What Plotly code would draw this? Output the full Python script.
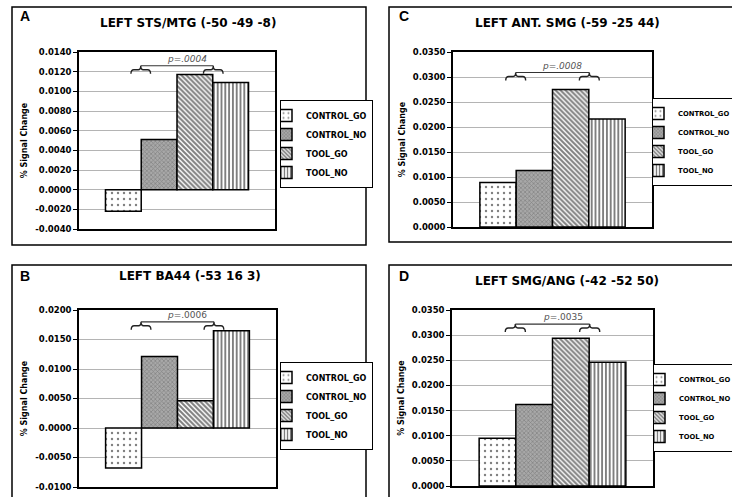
import plotly.graph_objects as go

W, H = 732, 497

series = ["CONTROL_GO", "CONTROL_NO", "TOOL_GO", "TOOL_NO"]

letters = ["A", "C", "B", "D"]
titles = ["LEFT STS/MTG (-50 -49 -8)", "LEFT ANT. SMG (-59 -25 44)",
          "LEFT BA44 (-53 16 3)", "LEFT SMG/ANG (-42 -52 50)"]

values_A = [-0.0022, 0.0051, 0.0117, 0.0109]
values_C = [0.0089, 0.0113, 0.0275, 0.0216]
values_B = [-0.0068, 0.0121, 0.0046, 0.0165]
values_D = [0.0095, 0.0162, 0.0294, 0.0246]

ticks_A = [-0.004, -0.002, 0.0, 0.002, 0.004, 0.006, 0.008, 0.010, 0.012, 0.014]
ticks_C = [0.0, 0.005, 0.010, 0.015, 0.020, 0.025, 0.030, 0.035]
ticks_B = [-0.010, -0.005, 0.0, 0.005, 0.010, 0.015, 0.020]
ticks_D = [0.0, 0.005, 0.010, 0.015, 0.020, 0.025, 0.030, 0.035]

p_labels = ["<i>p=.0004</i>", "<i>p=.0008</i>", "<i>p</i>=.0006", "<i>p</i>=.0035"]
bracket_levels = [0.0126, 0.0309, 0.0180, 0.0322]

all_values = [values_A, values_C, values_B, values_D]
all_ticks = [ticks_A, ticks_C, ticks_B, ticks_D]

# layout geometry in pixels (left, right, top, bottom of plot area)
plot_px = [(79, 275, 52, 229), (453, 652, 52, 227), (79, 276, 310, 487), (452, 653, 310, 486)]
box_px = [(12, 366, 7, 245), (389, 745, 7, 242), (12, 366, 265, 510), (389, 745, 265, 510)]
legend_px = [(280, 100), (652, 98), (280, 362), (653, 364)]
legend_font = [8, 6.8, 8, 6.8]
letter_px = [(25, 16), (404, 16), (25, 276), (404, 276)]
title_px = [(188, 23), (567, 23), (190, 276), (567, 281)]

patterns = [
    dict(shape=".", size=6, solidity=0.12, fgcolor="black", bgcolor="white"),
    dict(shape="x", size=3, solidity=0.4, fgcolor="#5a5a5a", bgcolor="#a8a8a8"),
    dict(shape="\\", size=3.5, solidity=0.58, fgcolor="black", bgcolor="white"),
    dict(shape="|", size=3.8, solidity=0.5, fgcolor="black", bgcolor="white"),
]

FONT = "DejaVu Sans"

def px_x(x):
    return x / W

def px_y(y):
    return 1 - y / H

fig = go.Figure()
shapes = []
annotations = []
layout = dict(width=W, height=H, margin=dict(l=0, r=0, t=0, b=0, autoexpand=False),
              paper_bgcolor="white", plot_bgcolor="white",
              barmode="group", bargap=0.27, bargroupgap=0,
              font=dict(family=FONT, color="black"))

for i in range(4):
    n = "" if i == 0 else str(i + 1)
    xa, ya = "x" + n, "y" + n
    leg = "legend" if i == 0 else "legend" + str(i + 1)
    vals = all_values[i]
    ticks = all_ticks[i]
    for j, s in enumerate(series):
        fig.add_trace(go.Bar(
            x=[0], y=[vals[j]], name=s, xaxis=xa, yaxis=ya, legend=leg,
            marker=dict(color="white", line=dict(color="black", width=1.5),
                        pattern=patterns[j]),
        ))
    l, r, t, b = plot_px[i]
    layout["xaxis" + n] = dict(domain=[px_x(l), px_x(r)], range=[-0.5, 0.5],
                               anchor=ya, showticklabels=False, showgrid=False,
                               zeroline=False, showline=True, mirror=True,
                               linecolor="black", linewidth=1.5, ticks="")
    layout["yaxis" + n] = dict(domain=[px_y(b), px_y(t)], anchor=xa,
                               range=[ticks[0], ticks[-1]],
                               tickvals=ticks, ticktext=[f"{v:.4f}" for v in ticks],
                               tickfont=dict(size=8.5, family=FONT, weight="bold"),
                               ticks="outside", ticklen=4, tickcolor="black",
                               showgrid=True, gridcolor="#b4b4b4", gridwidth=1,
                               zeroline=False, showline=True, mirror=True,
                               linecolor="black", linewidth=1.5,
                               title=dict(text="% Signal Change", standoff=6,
                                          font=dict(size=8, family=FONT, weight="bold")))
    lx, ly = legend_px[i]
    layout[leg] = dict(x=px_x(lx), y=px_y(ly), xanchor="left", yanchor="top",
                       bgcolor="white", bordercolor="black", borderwidth=1,
                       font=dict(size=legend_font[i], family=FONT, weight="bold"),
                       indentation=-15,
                       tracegroupgap=0, itemclick=False)
    # panel box
    bl, br, bt, bb = box_px[i]
    shapes.append(dict(type="rect", xref="paper", yref="paper",
                       x0=px_x(bl), x1=px_x(br), y0=px_y(bb), y1=px_y(bt),
                       line=dict(color="black", width=1.5), layer="below"))
    # letter and title
    annotations.append(dict(text=f"<b>{letters[i]}</b>", xref="paper", yref="paper",
                            x=px_x(letter_px[i][0]), y=px_y(letter_px[i][1]),
                            showarrow=False, xanchor="center", yanchor="middle",
                            font=dict(size=14, family="Liberation Sans")))
    annotations.append(dict(text=f"<b>{titles[i]}</b>", xref="paper", yref="paper",
                            x=px_x(title_px[i][0]), y=px_y(title_px[i][1]),
                            showarrow=False, xanchor="center", yanchor="middle",
                            font=dict(size=12, family=FONT)))
    # bracket with braces
    span = ticks[-1] - ticks[0]
    yt = bracket_levels[i]
    h = 0.045 * span
    ym = yt - h * 0.5
    yb = yt - h
    w = 0.05
    for cx in (-0.185, 0.185):
        x0, x1 = cx - w, cx + w
        path = (f"M {x0},{yb} Q {x0},{ym} {x0 + 0.3 * w},{ym} L {cx - 0.25 * w},{ym} "
                f"Q {cx},{ym} {cx},{yt} Q {cx},{ym} {cx + 0.25 * w},{ym} "
                f"L {x1 - 0.3 * w},{ym} Q {x1},{ym} {x1},{yb}")
        shapes.append(dict(type="path", xref=xa, yref=ya, path=path,
                           line=dict(color="#222222", width=1.4)))
    shapes.append(dict(type="line", xref=xa, yref=ya, x0=-0.185, x1=0.185, y0=yt, y1=yt,
                       line=dict(color="#333333", width=1.2)))
    annotations.append(dict(text=p_labels[i], xref=xa, yref=ya, x=0.05, y=yt,
                            showarrow=False, xanchor="center", yanchor="bottom", yshift=0,
                            font=dict(size=9, family=FONT, color="#555555")))

layout["shapes"] = shapes
layout["annotations"] = annotations
fig.update_layout(**layout)

fig.write_html("out.html", config={"displayModeBar": False},
               post_script="document.body.style.margin='0';document.body.style.overflow='hidden';")
